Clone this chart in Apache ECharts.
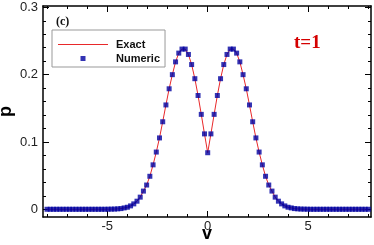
<!DOCTYPE html>
<html><head><meta charset="utf-8">
<script src="https://cdn.jsdelivr.net/npm/echarts@6/dist/echarts.min.js"></script>
<style>html,body{margin:0;padding:0;background:#fff}#c{width:374px;height:245px}</style>
</head><body><div id="c"></div>
<script>
const vValues = [-8,-7.84,-7.68,-7.52,-7.36,-7.2,-7.04,-6.88,-6.72,-6.56,-6.4,-6.24,-6.08,-5.92,-5.76,-5.6,-5.44,-5.28,-5.12,-4.96,-4.8,-4.64,-4.48,-4.32,-4.16,-4,-3.84,-3.68,-3.52,-3.36,-3.2,-3.04,-2.88,-2.72,-2.56,-2.4,-2.24,-2.08,-1.92,-1.76,-1.6,-1.44,-1.28,-1.12,-0.96,-0.8,-0.64,-0.48,-0.32,-0.16,
0,0.16,0.32,0.48,0.64,0.8,0.96,1.12,1.28,1.44,1.6,1.76,1.92,2.08,2.24,2.4,2.56,2.72,2.88,3.04,3.2,3.36,3.52,3.68,3.84,4,4.16,4.32,4.48,4.64,4.8,4.96,5.12,5.28,5.44,5.6,5.76,5.92,6.08,6.24,6.4,6.56,6.72,6.88,7.04,7.2,7.36,7.52,7.68,7.84,8];
const exactP = [0,0,0,0,0,0,0,0,0,0,0,0,0,0,0,0,0,0,0,0.0001,0.0002,0.0003,0.0006,0.001,0.002,0.003,0.005,0.008,0.012,0.018,0.027,0.036,0.049,0.066,0.085,0.106,0.130,0.155,0.179,0.200,0.219,0.232,0.238,0.238,0.230,0.215,0.194,0.169,0.141,0.112,
0.084,0.112,0.141,0.169,0.194,0.215,0.230,0.238,0.238,0.232,0.219,0.200,0.179,0.155,0.130,0.106,0.085,0.066,0.049,0.036,0.027,0.018,0.012,0.008,0.005,0.003,0.002,0.001,0.0006,0.0003,0.0002,0.0001,0,0,0,0,0,0,0,0,0,0,0,0,0,0,0,0,0,0,0];
const numericP = exactP.slice();
const xMajorTicks = [-5,0,5];
const xMinorTicks = [-8,-7,-6,-4,-3,-2,-1,1,2,3,4,6,7,8];
const yMajorTicks = [0,0.1,0.2,0.3];
const yMinorTicks = [0.02,0.04,0.06,0.08,0.12,0.14,0.16,0.18,0.22,0.24,0.26,0.28];

const XMIN=-8.2, XMAX=8.13, YMIN=-0.0115, YMAX=0.302;
const FONT = 'Liberation Sans, Arial, sans-serif';
const RED = '#e8282a';
const lineC = {show:true, onZero:false, lineStyle:{color:'#000', width:1.5}};
const noLine = {show:false, onZero:false};
function xAx(pos, vals, len, labels, showLine){
  return {type:'value', position:pos, min:XMIN, max:XMAX, splitLine:{show:false},
    axisLine: showLine ? lineC : noLine,
    axisTick:{show:true, inside:true, length:len, customValues:vals, lineStyle:{color:'#000', width:1}},
    axisLabel: labels ? {show:true, customValues:xMajorTicks, margin:3, fontSize:13, color:'#222', fontFamily:FONT} : {show:false}};
}
function yAx(pos, vals, len, labels, showLine){
  return {type:'value', position:pos, min:YMIN, max:YMAX, splitLine:{show:false},
    axisLine: showLine ? lineC : noLine,
    axisTick:{show:true, inside:true, length:len, customValues:vals, lineStyle:{color:'#000', width:1}},
    axisLabel: labels ? {show:true, customValues:yMajorTicks, margin:5, fontSize:13, color:'#222', fontFamily:FONT} : {show:false}};
}
const xs = [xAx('bottom', xMajorTicks, 6, true, true), xAx('bottom', xMinorTicks, 3, false, false), xAx('top', xMajorTicks, 6, false, true), xAx('top', xMinorTicks, 3, false, false)];
Object.assign(xs[0], {name:'v', nameLocation:'middle', nameGap:8, nameMoveOverlap:false,
  nameTextStyle:{fontSize:18, fontWeight:'bold', color:'#000', fontFamily:FONT}});
const ys = [yAx('left', yMajorTicks, 6, true, true), yAx('left', yMinorTicks, 3, false, false), yAx('right', yMajorTicks, 6, false, true), yAx('right', yMinorTicks, 3, false, false)];
Object.assign(ys[0], {name:'p', nameLocation:'middle', nameGap:28, nameRotate:90, nameMoveOverlap:false,
  nameTextStyle:{fontSize:18, fontWeight:'bold', color:'#000', fontFamily:FONT}});

const chart = echarts.init(document.getElementById('c'), null, {renderer:'canvas'});
chart.setOption({
  animation:false,
  grid:{left:43, right:3, top:6, bottom:28, containLabel:false, outerBoundsMode:'none'},
  xAxis: xs, yAxis: ys,
  title:[
    {text:'(c)', left:51, top:11, textStyle:{fontSize:12, fontWeight:'bold', color:'#111', fontFamily:'Liberation Serif, Times New Roman, serif'}},
    {text:'t=1', left:289, top:29, textStyle:{fontSize:19, fontWeight:'bold', color:'#d40000', fontFamily:'Liberation Serif, Times New Roman, serif'}}
  ],
  legend:{left:52, top:30, orient:'vertical', padding:[9,5,3,6], itemGap:3, itemWidth:50, itemHeight:5,
    symbolKeepAspect:true,
    backgroundColor:'#fff', borderColor:'#999', borderWidth:1,
    textStyle:{fontSize:11, fontWeight:'bold', color:'#111', fontFamily:FONT, padding:[0,0,0,3]},
    data:[{name:'Exact', icon:'path://M0,0h50v1h-50z', itemStyle:{color:RED, borderWidth:0}},{name:'Numeric', icon:'path://M0,0h1v1h-1z'}]},
  series:[
    {name:'Exact', type:'line', symbol:'none', data: vValues.map((v,i)=>[v, exactP[i]]), lineStyle:{color:RED, width:1}, itemStyle:{color:RED}, z:2},
    {name:'Numeric', type:'scatter', symbol:'rect', symbolSize:5, data: vValues.map((v,i)=>[v, numericP[i]]), itemStyle:{color:'#0000a0'}, z:3}
  ]
});
</script></body></html>
